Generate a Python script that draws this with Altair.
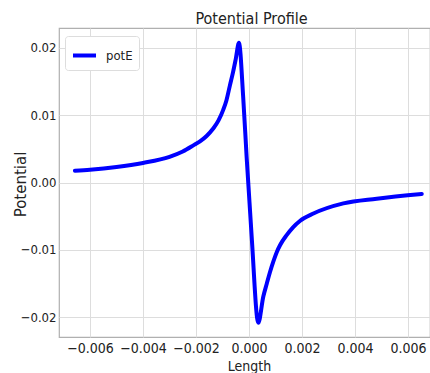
import altair as alt
import pandas as pd

# Sampled potential profile along the length axis
length_vals = [-0.00657, -0.0060, -0.0050, -0.0040, -0.0030, -0.0025, -0.0021,
               -0.00185, -0.0016, -0.00135, -0.00115, -0.00097, -0.00085,
               -0.00072, -0.00060, -0.00050, -0.00038, -0.00022, -0.00009,
               0.0001, 0.00035, 0.00054, 0.00067, 0.00079, 0.00092, 0.00105,
               0.00117, 0.00142, 0.00167, 0.00192, 0.00243, 0.00356, 0.00482,
               0.00652]
pot_vals = [0.00175, 0.0019, 0.0023, 0.0029, 0.0038, 0.0046, 0.0055,
            0.0061, 0.0069, 0.0080, 0.0092, 0.0108, 0.0122,
            0.0144, 0.0164, 0.0183, 0.0207, 0.0127, 0.0038,
            -0.0080, -0.0208, -0.0169, -0.0150, -0.0133, -0.0117, -0.0103,
            -0.0093, -0.0078, -0.0066, -0.0057, -0.0046, -0.0031, -0.0024,
            -0.0017]
series_name = "potE"

x_ticks = [-0.006, -0.004, -0.002, 0.0, 0.002, 0.004, 0.006]
y_ticks = [-0.02, -0.01, 0.0, 0.01, 0.02]

df = pd.DataFrame({"Length": length_vals, "Potential": pot_vals,
                   "series": [series_name] * len(length_vals)})

cond = "DejaVu Sans Condensed, DejaVu Sans, sans-serif"
text_color = "#222222"

chart = alt.Chart(df).mark_line(strokeWidth=4, strokeCap="round",
                                strokeJoin="round", interpolate="monotone").encode(
    x=alt.X("Length:Q",
            scale=alt.Scale(domain=[-0.00717, 0.00683], nice=False, zero=False),
            axis=alt.Axis(values=x_ticks, format=".3f", title="Length",
                          titleX=190, titleY=22, titleBaseline="top",
                          labelOverlap=False)),
    y=alt.Y("Potential:Q",
            scale=alt.Scale(domain=[-0.0229, 0.0229], nice=False, zero=False),
            axis=alt.Axis(values=y_ticks, format=".2f", title="Potential",
                          titleX=-39, titleY=156, titleAngle=-90,
                          titleAlign="center", titleBaseline="middle",
                          titleFont="DejaVu Sans", titleFontSize=15,
                          labelFontSize=13, labelPadding=3,
                          labelOverlap=False)),
    color=alt.Color("series:N",
                    scale=alt.Scale(domain=[series_name], range=["#0000ff"]),
                    legend=alt.Legend(title=None, orient="none",
                                      legendX=6, legendY=8,
                                      symbolType="stroke", symbolSize=529,
                                      symbolStrokeWidth=4, labelOffset=8,
                                      padding=6, cornerRadius=3,
                                      strokeColor="#dddddd", fillColor="white",
                                      labelFont=cond, labelFontSize=13,
                                      labelColor=text_color)),
    order=alt.Order("Length:Q"),
).properties(
    width=371,
    height=309,
    title=alt.TitleParams("Potential Profile", font=cond, fontSize=16,
                          fontWeight="normal", color=text_color, dx=7,
                          offset=1),
    autosize=alt.AutoSizeParams(type="none"),
    padding={"left": 59, "top": 28, "right": 0, "bottom": 36},
).configure_view(
    stroke="#b0b0b0", strokeWidth=1.2,
).configure_axis(
    grid=True, gridColor="#dddddd", gridWidth=1,
    domain=False, ticks=False, labelPadding=4,
    labelFont=cond, labelFontSize=14, labelColor=text_color,
    titleFont=cond, titleFontSize=14, titleColor=text_color,
    titleFontWeight="normal",
)

chart.save("out.html", embed_options={"renderer": "svg", "actions": False})
